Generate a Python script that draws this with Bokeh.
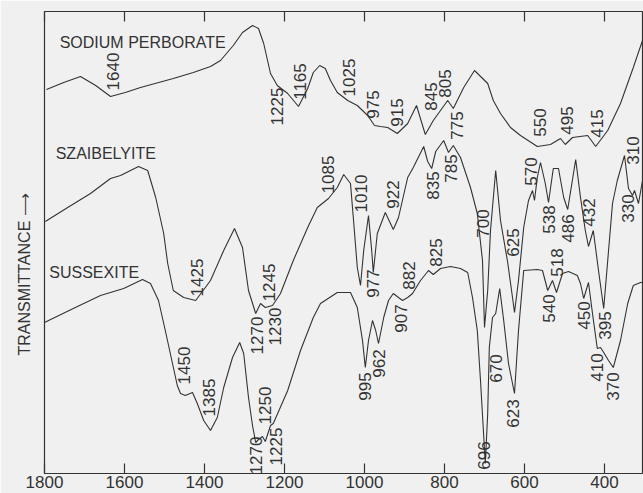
import math
from bokeh.plotting import figure
from bokeh.models import Range1d, LinearAxis, FixedTicker, Title, ColumnDataSource
from bokeh.core.properties import value
from bokeh.embed import file_html
from bokeh.resources import INLINE

# ---------------- data (wavenumber cm-1, transmittance in arbitrary units) ----------------
perborate_wn = [1795, 1752, 1710, 1672, 1635, 1598, 1560, 1478, 1428, 1385, 1360, 1328, 1305, 1280,
                1265, 1252, 1235, 1218, 1192, 1165, 1142, 1128, 1112, 1098, 1085, 1068, 1042, 1018,
                992, 975, 960, 942, 918, 892, 870, 848, 828, 810, 792, 778, 752, 725, 692, 678, 660,
                635, 610, 568, 535, 510, 498, 480, 442, 422, 392, 360, 328, 305]
perborate_t = [384, 391, 397, 388, 377, 381, 386, 395, 401, 407, 413, 428, 441, 448,
               445, 430, 400, 388, 380, 367, 385, 401, 408, 405, 393, 381, 373, 368,
               358, 348, 347, 346, 340, 350, 368, 339, 353, 363, 373, 365, 386, 403, 390, 373, 360,
               346, 338, 327, 329, 335, 329, 336, 338, 327, 343, 370, 406, 433]

szaib_wn = [1798, 1742, 1685, 1635, 1610, 1565, 1542, 1522, 1502, 1492, 1478, 1452, 1422, 1385,
            1352, 1325, 1305, 1290, 1272, 1260, 1248, 1230, 1210, 1178, 1142, 1118, 1090, 1068,
            1052, 1035, 1028, 1018, 1010, 1002, 990, 982, 978, 968, 948, 928, 915, 892, 878, 852,
            842, 832, 822, 802, 790, 778, 760, 735, 718, 705, 700, 692, 685, 672, 660, 642, 630,
            625, 615, 602, 590, 580, 575, 568, 560, 548, 540, 528, 515, 502, 492, 472, 460, 448,
            440, 428, 415, 402, 380, 368, 350, 340, 330, 325, 315, 305]
szaib_t = [252, 266, 280, 295, 298, 307, 303, 276, 240, 210, 183, 176, 173, 193,
           223, 245, 226, 183, 160, 170, 166, 168, 180, 213, 246, 266, 275, 286,
           299, 290, 256, 206, 188, 223, 258, 223, 201, 240, 261, 244, 256, 296, 306, 327,
           312, 305, 322, 333, 321, 328, 316, 286, 260, 213, 146, 183, 243, 303, 253, 211, 176,
           161, 193, 246, 273, 283, 273, 296, 311, 290, 271, 305, 305, 276, 264, 314, 276, 243,
           227, 243, 203, 165, 270, 293, 318, 285, 278, 283, 270, 293]

sussex_wn = [1800, 1728, 1660, 1602, 1555, 1535, 1515, 1498, 1480, 1468, 1460, 1448, 1430, 1418,
             1402, 1385, 1368, 1352, 1330, 1312, 1302, 1290, 1280, 1272, 1265, 1255, 1248, 1235,
             1228, 1192, 1160, 1128, 1110, 1068, 1035, 1018, 1005, 998, 990, 980, 972, 965, 952,
             940, 928, 915, 905, 892, 880, 860, 840, 828, 810, 785, 760, 742, 730, 718, 710, 698,
             692, 688, 680, 672, 662, 652, 640, 625, 615, 602, 568, 555, 542, 530, 520, 505, 490,
             468, 460, 452, 440, 430, 418, 410, 402, 390, 378, 360, 342, 328, 310, 305]
sussex_t = [151, 165, 178, 185, 194, 190, 173, 143, 110, 88, 80, 78, 81, 70,
            53, 43, 56, 86, 116, 131, 120, 76, 48, 31, 34, 37, 32, 48,
            50, 83, 123, 156, 170, 181, 181, 166, 133, 106, 133, 153, 143, 130, 156,
            173, 180, 176, 173, 176, 180, 193, 203, 199, 205, 207, 205, 201, 176, 143, 93, 10,
            60, 126, 156, 160, 185, 153, 110, 80, 143, 203, 204, 203, 183, 193, 181, 200, 202,
            198, 190, 175, 191, 160, 125, 126, 121, 113, 106, 133, 170, 188, 191, 191]

# peak annotations: text, label x (cm-1), label level
perborate_lbl = ["1640", "1225", "1165", "1025", "975", "915", "845", "805", "775", "550", "495", "415"]
perborate_lbl_wn = [1630, 1220, 1162, 1040, 978, 918, 835, 800, 768, 562, 495, 418]
perborate_lbl_t = [402, 367, 392, 396, 369, 361, 377, 390, 348, 351, 353, 350]

szaib_lbl = ["1425", "1270", "1245", "1230", "1085", "1010", "977", "922", "835", "785", "700",
             "625", "570", "538", "486", "432", "395", "330", "310"]
szaib_lbl_wn = [1420, 1270, 1240, 1225, 1092, 1010, 980, 930, 830, 785, 705,
                628, 585, 540, 492, 440, 398, 342, 330]
szaib_lbl_t = [196, 138, 191, 147, 299, 280, 190, 279, 288, 305, 250,
               231, 302, 254, 245, 261, 148, 265, 323]

sussex_lbl = ["1450", "1385", "1270", "1250", "1225", "995", "962", "907", "882", "825", "696",
              "670", "623", "540", "518", "450", "410", "370"]
sussex_lbl_wn = [1452, 1388, 1272, 1248, 1222, 998, 965, 910, 888, 822, 702,
                 672, 628, 540, 520, 452, 418, 378]
sussex_lbl_t = [108, 76, 18, 68, 27, 87, 110, 155, 198, 221, 18,
                105, 60, 165, 211, 158, 106, 87]

names = ["SODIUM PERBORATE", "SZAIBELYITE", "SUSSEXITE"]
names_wn = [1762, 1772, 1788]
names_t = [431, 320, 201]

x_ticks = [1800, 1600, 1400, 1200, 1000, 800, 600, 400]

# ---------------- figure ----------------
BG = "#f0f0f0"
INK = "#333333"
FONT = "Liberation Sans"

p = figure(width=643, height=493, output_backend="svg", toolbar_location=None,
           x_range=Range1d(1800, 305), y_range=Range1d(0, 462),
           min_border_left=44, min_border_right=1, min_border_top=11, min_border_bottom=20,
           background_fill_color=BG, border_fill_color=BG)
p.grid.visible = False
p.yaxis.visible = False
p.outline_line_color = INK
p.outline_line_width = 1.2

ax = p.xaxis[0]
ax.ticker = FixedTicker(ticks=x_ticks)
ax.axis_line_color = None
ax.major_tick_in = 10
ax.major_tick_out = 0
ax.minor_tick_line_color = None
ax.major_tick_line_color = INK
ax.major_tick_line_width = 1.2
ax.major_label_standoff = 2
ax.major_label_text_font = FONT
ax.major_label_text_font_size = "17px"
ax.major_label_text_color = INK

top = LinearAxis(ticker=FixedTicker(ticks=x_ticks))
top.axis_line_color = None
top.major_tick_in = 10
top.major_tick_out = 0
top.minor_tick_line_color = None
top.major_tick_line_color = INK
top.major_tick_line_width = 1.2
top.major_label_overrides = {t: "" for t in x_ticks}
top.major_label_text_font_size = "8px"
top.major_label_standoff = 0
p.add_layout(top, "above")

for wn, t in [(perborate_wn, perborate_t), (szaib_wn, szaib_t), (sussex_wn, sussex_t)]:
    p.line(wn, t, line_color=INK, line_width=1.1)

for txt, wn, t in [(perborate_lbl, perborate_lbl_wn, perborate_lbl_t),
                   (szaib_lbl, szaib_lbl_wn, szaib_lbl_t),
                   (sussex_lbl, sussex_lbl_wn, sussex_lbl_t)]:
    src = ColumnDataSource(dict(x=wn, y=t, text=txt))
    p.text(x="x", y="y", text="text", source=src, angle=math.pi / 2,
           text_align="center", text_baseline="middle",
           text_font=value(FONT), text_font_size="17px", text_color=INK)

src_n = ColumnDataSource(dict(x=names_wn, y=names_t, text=names))
p.text(x="x", y="y", text="text", source=src_n, text_align="left", text_baseline="middle",
       text_font=value(FONT), text_font_size="16px", text_color=INK)

ylab = Title(text="TRANSMITTANCE \u27f6", align="left", offset=118, standoff=24,
             text_font=FONT, text_font_size="16px", text_font_style="normal", text_color=INK)
p.add_layout(ylab, "left")

open("out.html", "w").write(file_html(p, INLINE))
